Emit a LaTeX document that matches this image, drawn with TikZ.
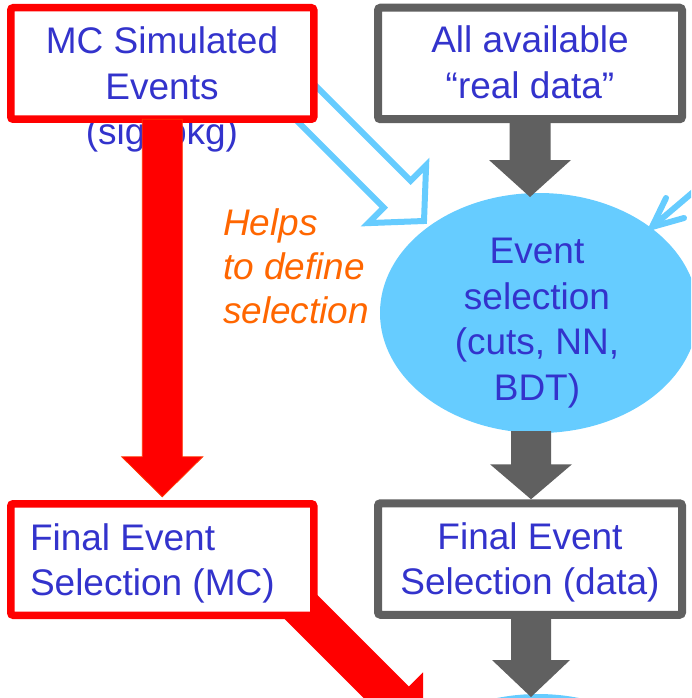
\documentclass[tikz,border=0pt]{standalone}
\usepackage{fontspec}
\setmainfont{Liberation Sans}
\usetikzlibrary{calc,shapes.geometric}
\definecolor{txtblue}{HTML}{3333CC}
\definecolor{orng}{HTML}{FF6600}
\definecolor{dgray}{HTML}{606060}
\definecolor{lblue}{HTML}{66CCFF}
\definecolor{rred}{HTML}{FF0000}
\definecolor{redge}{HTML}{FF3300}
\tikzset{
  bigtext/.style={font=\fontsize{37}{45.5}\selectfont, text=txtblue, inner sep=0pt, outer sep=0pt},
  boxshape/.style={rectangle, minimum width=303pt, minimum height=111.5pt, inner sep=0pt, outer sep=0pt, fill=white},
  redborder/.style={draw=rred, line width=7.5pt, rounded corners=2.5pt},
  grayborder/.style={draw=dgray, line width=8pt, rounded corners=2.5pt},
  redarrow/.style={fill=rred},
  redarrowedge/.style={fill=rred, draw=redge, line width=0.8pt},
  grayarrow/.style={fill=dgray},
  outlinearrow/.style={fill=white, draw=lblue, line width=6pt, line join=miter},
  bluestroke/.style={draw=lblue, line width=6pt, line cap=round, line join=round},
}
% #1 style, #2 start, #3 tip, #4 shaft half width, #5 head half width, #6 head length
\newcommand\blockarrow[6]{%
  \path ($(#3)!#6!(#2)$) coordinate (bah);
  \path[#1] ($(#2)!#4!90:(#3)$) -- ($(bah)!#4!90:(#3)$) -- ($(bah)!#5!90:(#3)$)
    -- (#3) -- ($(bah)!#5!-90:(#3)$) -- ($(bah)!#4!-90:(#3)$) -- ($(#2)!#4!-90:(#3)$) -- cycle;
}
\begin{document}
\begin{tikzpicture}[x=1pt,y=-1pt]
\useasboundingbox (0,0) rectangle (691,698);
\clip (0,0) rectangle (691,698);

% box placeholders (white fill)
\node[boxshape] (mc) at (162.25,63.5) {};
\node[boxshape, minimum width=304pt] (data) at (530,63.5) {};
\node[boxshape] (mcsel) at (162.25,559.5) {};
\node[boxshape, minimum width=304pt] (datasel) at (530,559) {};

% connector end points
\coordinate (oastart) at (291,88);
\coordinate (oatip) at (424,221);
\coordinate (rdstart) at (250,556);
\coordinate (rdtip) at (423,729);
\coordinate (rastart) at (725,165);
\coordinate (ratip) at (652,227);

% ellipses
\node[ellipse, fill=lblue, minimum width=318pt, minimum height=240pt, inner sep=0pt, outer sep=0pt] (sel) at (539,313) {};
\node[ellipse, fill=lblue, minimum width=318pt, minimum height=240pt, inner sep=0pt, outer sep=0pt] (next) at (538,814) {};

\blockarrow{outlinearrow}{oastart}{oatip}{19pt}{41pt}{38pt}
\blockarrow{redarrow}{rdstart}{rdtip}{20pt}{40pt}{40pt}

% right light-blue arrow
\draw[bluestroke] (rastart) -- (ratip);
\draw[bluestroke] (666,198) -- (ratip) -- (684,218);

% redraw white boxes above connectors
\fill[white] (mc.south west) rectangle (mc.north east);
\fill[white] (mcsel.south west) rectangle (mcsel.north east);

% texts
\node[bigtext, align=center] (t1) at (162,89.9) {MC Simulated\\Events\\(sig, bkg)};
\node[bigtext, align=center] (t2) at (530,62.3) {All available\\“real data”};
\node[bigtext, align=center] (t3) at (537,322.9) {Event\\selection\\(cuts, NN,\\BDT)};
\node[bigtext, align=left, anchor=west] (t4) at (30,563.2) {Final Event\\Selection (MC)};
\node[bigtext, align=center] (t5) at (530,562.2) {Final Event\\Selection (data)};
\node[bigtext, align=left, anchor=west, text=orng, font=\fontsize{37}{44}\selectfont\itshape] (t6) at (223,266.5) {Helps\\to define\\selection};

% borders
\draw[redborder] (mc.south west) rectangle (mc.north east);
\draw[grayborder] (data.south west) rectangle (data.north east);
\draw[redborder] (mcsel.south west) rectangle (mcsel.north east);
\draw[grayborder] (datasel.south west) rectangle (datasel.north east);

% block arrows
\blockarrow{redarrowedge}{mc.south}{$(mcsel.north)+(0,-7)$}{20pt}{40.5pt}{40pt}
\blockarrow{grayarrow}{data.south}{$(sel.north)+(-9,4)$}{20.5pt}{41pt}{37pt}
\blockarrow{grayarrow}{$(sel.south)+(-8,-2)$}{$(datasel.north)+(1,-4)$}{20pt}{41pt}{35pt}
\blockarrow{grayarrow}{$(datasel.south)+(1,0)$}{$(next.north)+(-7,3)$}{20pt}{39pt}{37pt}
\end{tikzpicture}
\end{document}
